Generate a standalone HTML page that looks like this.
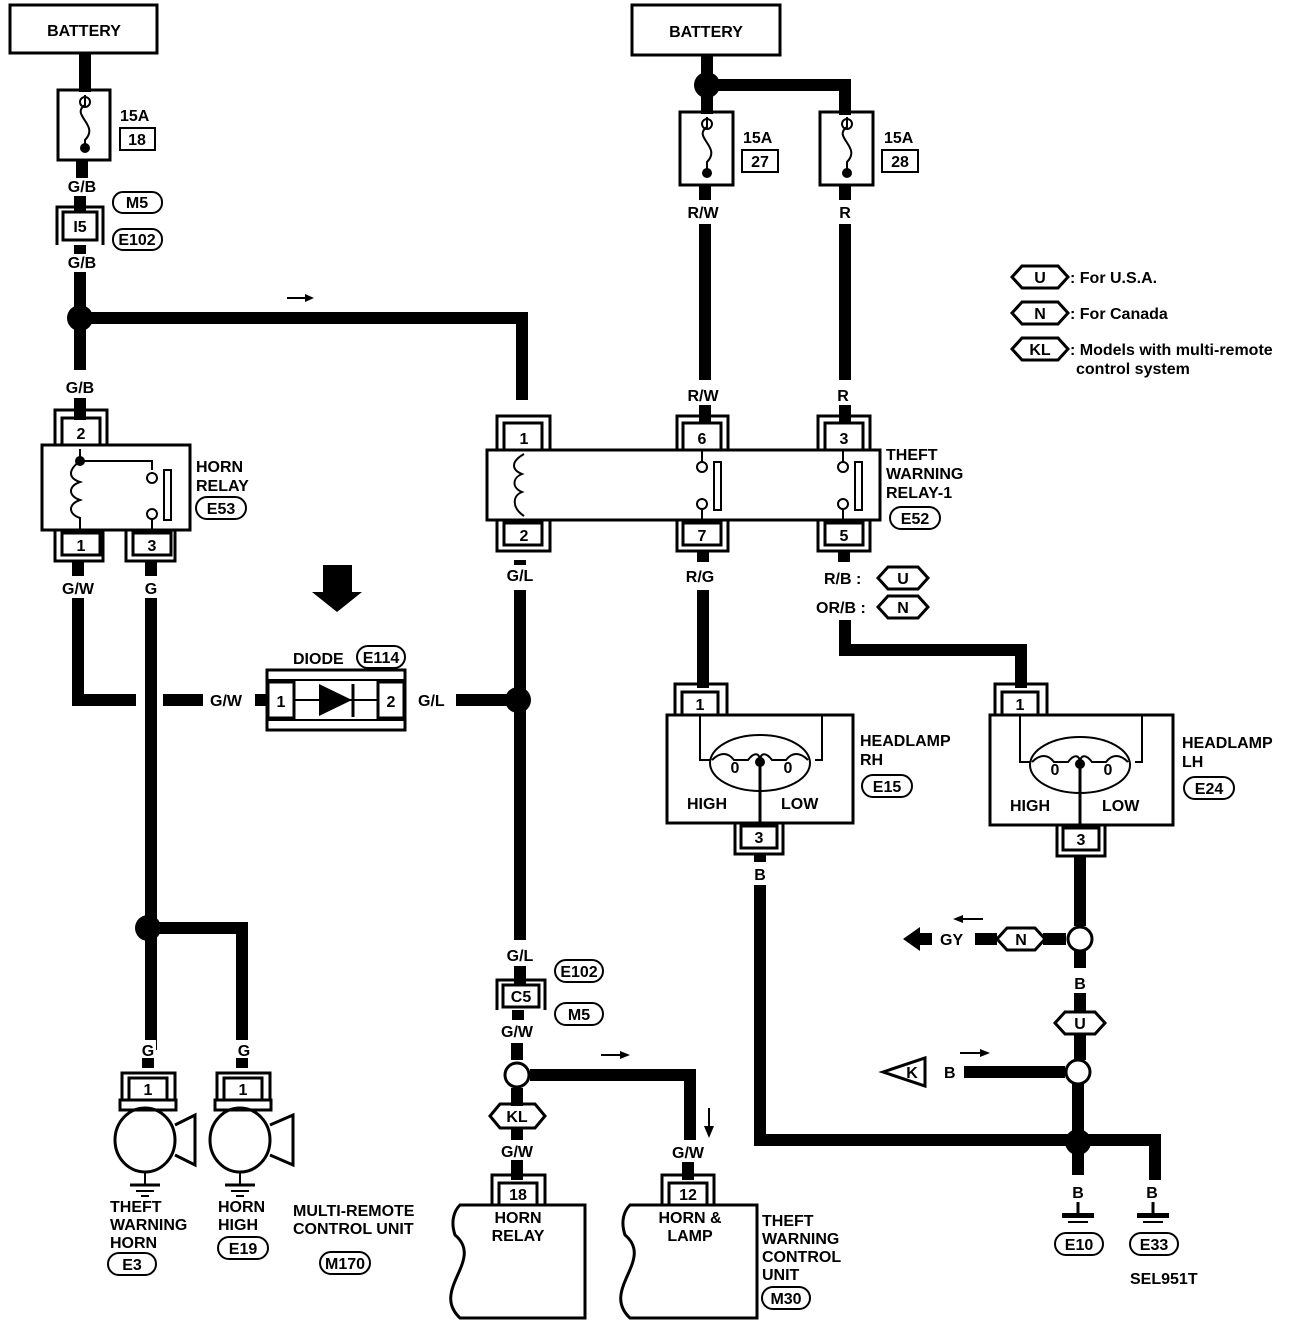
<!DOCTYPE html>
<html><head><meta charset="utf-8"><style>
html,body{margin:0;padding:0;background:#fff}
svg{display:block}
text{font-family:"Liberation Sans",sans-serif;font-weight:bold;font-size:16px;fill:#000}
.w{stroke:#000;stroke-width:12;fill:none}
.t{stroke:#000;stroke-width:3;fill:none}
.m{stroke:#000;stroke-width:2;fill:none}
.c{text-anchor:middle}
</style></head><body>
<svg width="1312" height="1326" viewBox="0 0 1312 1326" xmlns="http://www.w3.org/2000/svg">
<!-- LEFT BATTERY -->
<rect x="10" y="5" width="147" height="48" class="t"/>
<text x="84" y="36" class="c">BATTERY</text>
<line x1="85" y1="53" x2="85" y2="92" class="w"/>
<rect x="58" y="90" width="52" height="70" class="t"/>
<path d="M85 95 V105 C70 115,100 125,85 140 V148" class="m"/><circle cx="85" cy="102" r="5" class="m"/><circle cx="85" cy="148" r="5" fill="#000"/>
<text x="120" y="121">15A</text><rect x="120" y="128" width="35" height="22" class="m"/><text x="137" y="145" class="c">18</text>
<line x1="82" y1="160" x2="82" y2="178" class="w"/>
<text x="82" y="192" class="c">G/B</text>
<line x1="80" y1="196" x2="80" y2="212" class="w"/>
<path d="M57 245 V207 H103 V245" class="t"/><rect x="63" y="212" width="34" height="28" class="t"/><text x="80" y="232" class="c">I5</text>
<rect x="113" y="192" width="49" height="21" rx="10" class="m"/><text x="137" y="208" class="c">M5</text>
<rect x="113" y="229" width="49" height="21" rx="10" class="m"/><text x="137" y="245" class="c">E102</text>
<line x1="80" y1="245" x2="80" y2="254" class="w"/>
<text x="82" y="268" class="c">G/B</text>
<line x1="80" y1="272" x2="80" y2="370" class="w"/>
<circle cx="80" cy="318" r="13" fill="#000"/>
<path d="M80 318 H522 V400" class="w"/>
<path d="M287 298 H312" class="m"/><path d="M305 294 L314 298 L305 302Z" fill="#000"/>
<text x="80" y="393" class="c">G/B</text>
<line x1="80" y1="398" x2="80" y2="420" class="w"/>
<!-- horn relay -->
<path d="M55 445 V410 H107 V445" class="t"/><rect x="62" y="418" width="38" height="27" class="t"/><text x="81" y="439" class="c">2</text>
<rect x="42" y="445" width="148" height="85" class="t"/>
<circle cx="80" cy="461" r="5" fill="#000"/>
<path d="M80 449 V461 H152 V470" class="m"/>
<path d="M80 461 C68 470,68 478,80 482 C68 486,68 496,80 500 C68 504,68 514,80 518 V530" class="m"/>
<circle cx="152" cy="478" r="5" class="m"/><circle cx="152" cy="514" r="5" class="m"/><line x1="152" y1="519" x2="152" y2="530" class="m"/>
<rect x="164" y="470" width="7" height="50" class="m"/>
<text x="196" y="472">HORN</text><text x="196" y="491">RELAY</text>
<rect x="196" y="497" width="50" height="22" rx="11" class="m"/><text x="221" y="514" class="c">E53</text>
<path d="M55 530 V561 H103 V530" class="t"/><rect x="62" y="533" width="38" height="22" class="t"/><text x="81" y="551" class="c">1</text>
<path d="M126 530 V561 H175 V530" class="t"/><rect x="133" y="533" width="38" height="22" class="t"/><text x="152" y="551" class="c">3</text>
<line x1="78" y1="561" x2="78" y2="576" class="w"/><line x1="151" y1="561" x2="151" y2="576" class="w"/>
<text x="78" y="594" class="c">G/W</text><text x="151" y="594" class="c">G</text>
<path d="M78 598 V700 H136" class="w"/><path d="M163 700 H203" class="w"/>
<line x1="151" y1="598" x2="151" y2="1050" class="w"/>
<circle cx="148" cy="928" r="13" fill="#000"/>
<path d="M148 928 H242 V1045" class="w"/>
<!-- diode -->
<path d="M323 565 H352 V592 H362 L337 612 L312 592 H323Z" fill="#000"/>
<text x="210" y="706">G/W</text>
<line x1="255" y1="700" x2="268" y2="700" class="w"/>
<rect x="267" y="670" width="138" height="60" class="t"/>
<line x1="267" y1="680" x2="405" y2="680" class="m"/><line x1="267" y1="720" x2="405" y2="720" class="m"/>
<rect x="268" y="682" width="26" height="36" class="t"/><text x="281" y="707" class="c">1</text>
<rect x="378" y="682" width="26" height="36" class="t"/><text x="391" y="707" class="c">2</text>
<line x1="294" y1="700" x2="378" y2="700" class="m"/>
<path d="M319 684 L352 700 L319 716Z" fill="#000"/><line x1="353" y1="684" x2="353" y2="717" class="t"/>
<text x="293" y="664">DIODE</text>
<rect x="357" y="646" width="48" height="22" rx="11" class="m"/><text x="381" y="663" class="c">E114</text>
<text x="418" y="706">G/L</text>
<path d="M456 700 H518" class="w"/>
<line x1="520" y1="560" x2="520" y2="565" class="w"/>
<text x="520" y="581" class="c">G/L</text>
<line x1="520" y1="590" x2="520" y2="940" class="w"/>
<circle cx="518" cy="700" r="13" fill="#000"/>
<text x="520" y="961" class="c">G/L</text>
<line x1="520" y1="966" x2="520" y2="985" class="w"/>
<path d="M497 1010 V980 H545 V1010" class="t"/><rect x="503" y="985" width="36" height="22" class="t"/><text x="521" y="1002" class="c">C5</text>
<rect x="555" y="960" width="48" height="22" rx="11" class="m"/><text x="579" y="977" class="c">E102</text>
<rect x="555" y="1003" width="48" height="22" rx="11" class="m"/><text x="579" y="1020" class="c">M5</text>
<line x1="518" y1="1010" x2="518" y2="1020" class="w"/>
<text x="517" y="1037" class="c">G/W</text>
<line x1="517" y1="1043" x2="517" y2="1060" class="w"/>
<circle cx="517" cy="1075" r="12" class="t"/>
<path d="M530 1075 H690 V1140" class="w"/>
<path d="M601 1055 H624" class="m"/><path d="M620 1051 L630 1055 L620 1059Z" fill="#000"/>
<path d="M709 1108 V1128" class="m"/><path d="M704 1126 L709 1138 L714 1126Z" fill="#000"/>
<line x1="517" y1="1088" x2="517" y2="1106" class="w"/>
<path d="M490 1116 L500 1104 H535 L545 1116 L535 1128 H500Z" fill="#fff" class="t"/><text x="517" y="1122" class="c">KL</text>
<line x1="517" y1="1128" x2="517" y2="1140" class="w"/>
<text x="517" y="1157" class="c">G/W</text>
<line x1="517" y1="1160" x2="517" y2="1180" class="w"/>
<path d="M492 1205 V1175 H545 V1205" class="t"/><rect x="499" y="1183" width="38" height="22" class="t"/><text x="518" y="1200" class="c">18</text>
<path d="M460 1205 H585 V1318 H460 C430 1290,485 1260,455 1235 C450 1220,455 1210,460 1205Z" class="t"/>
<text x="518" y="1223" class="c">HORN</text><text x="518" y="1241" class="c">RELAY</text>
<text x="688" y="1158" class="c">G/W</text>
<line x1="688" y1="1162" x2="688" y2="1180" class="w"/>
<path d="M662 1205 V1175 H714 V1205" class="t"/><rect x="669" y="1183" width="38" height="22" class="t"/><text x="688" y="1200" class="c">12</text>
<path d="M630 1205 H757 V1318 H630 C600 1290,655 1260,625 1235 C620 1220,625 1210,630 1205Z" class="t"/>
<text x="690" y="1223" class="c">HORN &amp;</text><text x="690" y="1241" class="c">LAMP</text>
<text x="762" y="1226">THEFT</text><text x="762" y="1244">WARNING</text><text x="762" y="1262">CONTROL</text><text x="762" y="1280">UNIT</text>
<rect x="762" y="1287" width="48" height="22" rx="11" class="m"/><text x="786" y="1304" class="c">M30</text>
<text x="293" y="1216">MULTI-REMOTE</text><text x="293" y="1234">CONTROL UNIT</text>
<rect x="320" y="1252" width="50" height="22" rx="11" class="m"/><text x="345" y="1269" class="c">M170</text>
<!-- horns -->
<g>
<line x1="148" y1="1048" x2="148" y2="1068" class="w"/>
<path d="M122 1100 V1073 H175 V1100" class="t"/><rect x="129" y="1078" width="38" height="22" class="t"/><text x="148" y="1095" class="c">1</text>
<rect x="120" y="1100" width="56" height="10" class="t"/>
<ellipse cx="145" cy="1140" rx="30" ry="32" class="t"/>
<path d="M175 1125 L195 1115 V1165 L175 1155" class="t"/>
<line x1="145" y1="1172" x2="145" y2="1185" class="m"/><line x1="130" y1="1185" x2="160" y2="1185" class="t"/><line x1="136" y1="1191" x2="154" y2="1191" class="m"/><line x1="141" y1="1196" x2="149" y2="1196" class="m"/>
</g>
<g>
<line x1="242" y1="1048" x2="242" y2="1068" class="w"/>
<path d="M217 1100 V1073 H270 V1100" class="t"/><rect x="224" y="1078" width="38" height="22" class="t"/><text x="243" y="1095" class="c">1</text>
<rect x="215" y="1100" width="56" height="10" class="t"/>
<ellipse cx="240" cy="1140" rx="30" ry="32" class="t"/>
<path d="M270 1125 L293 1115 V1165 L270 1155" class="t"/>
<line x1="240" y1="1172" x2="240" y2="1185" class="m"/><line x1="225" y1="1185" x2="255" y2="1185" class="t"/><line x1="231" y1="1191" x2="249" y2="1191" class="m"/><line x1="236" y1="1196" x2="244" y2="1196" class="m"/>
</g>
<rect x="140" y="1040" width="16" height="18" fill="#fff"/><text x="148" y="1056" class="c">G</text>
<rect x="234" y="1040" width="16" height="18" fill="#fff"/><text x="244" y="1056" class="c">G</text>
<text x="110" y="1212">THEFT</text><text x="110" y="1230">WARNING</text><text x="110" y="1248">HORN</text>
<rect x="108" y="1253" width="48" height="22" rx="11" class="m"/><text x="132" y="1270" class="c">E3</text>
<text x="218" y="1212">HORN</text><text x="218" y="1230">HIGH</text>
<rect x="218" y="1237" width="50" height="22" rx="11" class="m"/><text x="243" y="1254" class="c">E19</text>

<!-- RIGHT BATTERY -->
<rect x="632" y="5" width="148" height="50" class="t"/>
<text x="706" y="37" class="c">BATTERY</text>
<line x1="707" y1="55" x2="707" y2="75" class="w"/>
<circle cx="707" cy="85" r="13" fill="#000"/>
<path d="M707 85 H845 V115" class="w"/>
<line x1="707" y1="85" x2="707" y2="114" class="w"/>
<rect x="680" y="112" width="53" height="73" class="t"/>
<path d="M707 117 V127 C692 137,722 147,707 162 V172" class="m"/><circle cx="707" cy="124" r="5" class="m"/><circle cx="707" cy="173" r="5" fill="#000"/>
<text x="743" y="143">15A</text><rect x="742" y="150" width="36" height="22" class="m"/><text x="760" y="167" class="c">27</text>
<rect x="820" y="112" width="53" height="73" class="t"/>
<path d="M847 117 V127 C832 137,862 147,847 162 V172" class="m"/><circle cx="847" cy="124" r="5" class="m"/><circle cx="847" cy="173" r="5" fill="#000"/>
<text x="884" y="143">15A</text><rect x="882" y="150" width="36" height="22" class="m"/><text x="900" y="167" class="c">28</text>
<line x1="705" y1="185" x2="705" y2="200" class="w"/><line x1="845" y1="185" x2="845" y2="200" class="w"/>
<text x="703" y="218" class="c">R/W</text><text x="845" y="218" class="c">R</text>
<line x1="705" y1="224" x2="705" y2="380" class="w"/><line x1="845" y1="224" x2="845" y2="380" class="w"/>
<text x="703" y="401" class="c">R/W</text><text x="843" y="401" class="c">R</text>
<line x1="705" y1="405" x2="705" y2="422" class="w"/><line x1="845" y1="405" x2="845" y2="422" class="w"/>
<!-- theft relay -->
<path d="M497 450 V416 H550 V450" class="t"/><rect x="504" y="423" width="38" height="27" class="t"/><text x="524" y="444" class="c">1</text>
<path d="M677 450 V416 H728 V450" class="t"/><rect x="683" y="423" width="38" height="27" class="t"/><text x="702" y="444" class="c">6</text>
<path d="M818 450 V416 H870 V450" class="t"/><rect x="825" y="423" width="38" height="27" class="t"/><text x="844" y="444" class="c">3</text>
<rect x="487" y="450" width="393" height="70" class="t"/>
<path d="M524 454 C510 462,512 470,522 474 C512 478,512 488,522 492 C512 496,512 508,524 516" class="m"/>
<circle cx="702" cy="467" r="5" class="m"/><circle cx="702" cy="504" r="5" class="m"/><line x1="702" y1="509" x2="702" y2="520" class="m"/><line x1="702" y1="450" x2="702" y2="462" class="m"/>
<rect x="714" y="462" width="7" height="48" class="m"/>
<circle cx="843" cy="467" r="5" class="m"/><circle cx="843" cy="504" r="5" class="m"/><line x1="843" y1="509" x2="843" y2="520" class="m"/><line x1="843" y1="450" x2="843" y2="462" class="m"/>
<rect x="855" y="462" width="7" height="48" class="m"/>
<text x="886" y="460">THEFT</text><text x="886" y="479">WARNING</text><text x="886" y="498">RELAY-1</text>
<rect x="890" y="507" width="50" height="22" rx="11" class="m"/><text x="915" y="524" class="c">E52</text>
<path d="M497 520 V551 H550 V520" class="t"/><rect x="504" y="523" width="38" height="22" class="t"/><text x="524" y="541" class="c">2</text>
<path d="M677 520 V551 H728 V520" class="t"/><rect x="683" y="523" width="38" height="22" class="t"/><text x="702" y="541" class="c">7</text>
<path d="M818 520 V551 H870 V520" class="t"/><rect x="825" y="523" width="38" height="22" class="t"/><text x="844" y="541" class="c">5</text>
<line x1="703" y1="551" x2="703" y2="562" class="w"/><line x1="844" y1="551" x2="844" y2="562" class="w"/>
<text x="700" y="582" class="c">R/G</text>
<text x="824" y="584">R/B :</text><text x="816" y="613">OR/B :</text>
<path d="M878 578 L888 567 H918 L928 578 L918 589 H888Z" class="t"/><text x="903" y="584" class="c">U</text>
<path d="M878 607 L888 596 H918 L928 607 L918 618 H888Z" class="t"/><text x="903" y="613" class="c">N</text>
<line x1="703" y1="590" x2="703" y2="688" class="w"/>
<path d="M845 620 V650 H1021 V688" class="w"/>
<!-- headlamp RH -->
<path d="M675 715 V684 H727 V715" class="t"/><rect x="682" y="692" width="36" height="23" class="t"/><text x="700" y="710" class="c">1</text>
<rect x="667" y="715" width="186" height="108" class="t"/>
<path d="M700 715 V760 H710 M815 760 H822 V715" class="m"/>
<ellipse cx="760" cy="763" rx="50" ry="28" class="m"/>
<path d="M712 760 C720 752,728 752,734 760 H748 C754 752,760 752,760 762 C760 752,766 752,772 760 H786 C792 752,800 752,808 760" class="m"/>
<text x="735" y="773" class="c">0</text><text x="788" y="773" class="c">0</text>
<circle cx="760" cy="762" r="5" fill="#000"/>
<line x1="760" y1="762" x2="760" y2="823" class="t"/>
<text x="687" y="809">HIGH</text><text x="781" y="809">LOW</text>
<path d="M735 823 V854 H783 V823" class="t"/><rect x="741" y="826" width="36" height="22" class="t"/><text x="759" y="843" class="c">3</text>
<text x="860" y="746">HEADLAMP</text><text x="860" y="765">RH</text>
<rect x="862" y="775" width="50" height="22" rx="11" class="m"/><text x="887" y="792" class="c">E15</text>
<line x1="760" y1="854" x2="760" y2="862" class="w"/>
<text x="760" y="880" class="c">B</text>
<path d="M760 885 V1140 H1078" class="w"/>
<!-- headlamp LH -->
<path d="M995 715 V684 H1047 V715" class="t"/><rect x="1002" y="692" width="36" height="23" class="t"/><text x="1020" y="710" class="c">1</text>
<rect x="990" y="715" width="183" height="110" class="t"/>
<path d="M1020 715 V762 H1030 M1135 762 H1142 V715" class="m"/>
<ellipse cx="1080" cy="765" rx="50" ry="28" class="m"/>
<path d="M1032 762 C1040 754,1048 754,1054 762 H1068 C1074 754,1080 754,1080 764 C1080 754,1086 754,1092 762 H1106 C1112 754,1120 754,1128 762" class="m"/>
<text x="1055" y="775" class="c">0</text><text x="1108" y="775" class="c">0</text>
<circle cx="1080" cy="764" r="5" fill="#000"/>
<line x1="1080" y1="764" x2="1080" y2="825" class="t"/>
<text x="1010" y="811">HIGH</text><text x="1102" y="811">LOW</text>
<path d="M1057 825 V856 H1105 V825" class="t"/><rect x="1063" y="828" width="36" height="22" class="t"/><text x="1081" y="845" class="c">3</text>
<text x="1182" y="748">HEADLAMP</text><text x="1182" y="767">LH</text>
<rect x="1184" y="777" width="50" height="22" rx="11" class="m"/><text x="1209" y="794" class="c">E24</text>
<line x1="1080" y1="856" x2="1080" y2="926" class="w"/>
<circle cx="1080" cy="939" r="12" class="t"/>
<path d="M1043 939 H1066" class="w"/>
<path d="M997 939 L1007 928 H1035 L1045 939 L1035 950 H1007Z" fill="#fff" class="t"/><text x="1021" y="945" class="c">N</text>
<path d="M975 939 H997" class="w"/>
<text x="940" y="945">GY</text>
<path d="M903 939 L920 927 V951Z" fill="#000"/><rect x="918" y="933" width="14" height="12" fill="#000"/>
<path d="M960 919 H983" class="m"/><path d="M963 915 L953 919 L963 923Z" fill="#000"/>
<line x1="1080" y1="951" x2="1080" y2="968" class="w"/>
<text x="1080" y="989" class="c">B</text>
<line x1="1080" y1="993" x2="1080" y2="1012" class="w"/>
<path d="M1055 1023 L1065 1012 H1095 L1105 1023 L1095 1034 H1065Z" fill="#fff" class="t"/><text x="1080" y="1029" class="c">U</text>
<line x1="1080" y1="1034" x2="1080" y2="1060" class="w"/>
<circle cx="1078" cy="1072" r="12" class="t"/>
<path d="M964 1072 H1065" class="w"/>
<text x="944" y="1078">B</text>
<path d="M883 1072 L925 1058 V1086Z" class="t"/><text x="912" y="1078" class="c">K</text>
<path d="M960 1053 H983" class="m"/><path d="M980 1049 L990 1053 L980 1057Z" fill="#000"/>
<line x1="1078" y1="1084" x2="1078" y2="1175" class="w"/>
<circle cx="1078" cy="1142" r="13" fill="#000"/>
<path d="M1078 1140 H1155 V1180" class="w"/>
<text x="1078" y="1198" class="c">B</text><text x="1152" y="1198" class="c">B</text>
<line x1="1078" y1="1202" x2="1078" y2="1215" class="t"/><line x1="1153" y1="1202" x2="1153" y2="1215" class="t"/>
<rect x="1062" y="1213" width="32" height="5" fill="#000"/><line x1="1068" y1="1222" x2="1088" y2="1222" class="m"/>
<rect x="1137" y="1213" width="32" height="5" fill="#000"/><line x1="1143" y1="1222" x2="1163" y2="1222" class="m"/>
<rect x="1055" y="1233" width="48" height="22" rx="11" class="m"/><text x="1079" y="1250" class="c">E10</text>
<rect x="1130" y="1233" width="48" height="22" rx="11" class="m"/><text x="1154" y="1250" class="c">E33</text>
<text x="1130" y="1284">SEL951T</text>
<!-- legend -->
<path d="M1012 277 L1022 266 H1058 L1068 277 L1058 288 H1022Z" class="t"/><text x="1040" y="283" class="c">U</text>
<text x="1070" y="283">: For U.S.A.</text>
<path d="M1012 313 L1022 302 H1058 L1068 313 L1058 324 H1022Z" class="t"/><text x="1040" y="319" class="c">N</text>
<text x="1070" y="319">: For Canada</text>
<path d="M1012 349 L1022 338 H1058 L1068 349 L1058 360 H1022Z" class="t"/><text x="1040" y="355" class="c">KL</text>
<text x="1070" y="355">: Models with multi-remote</text>
<text x="1076" y="374">control system</text>
</svg>
</body></html>
